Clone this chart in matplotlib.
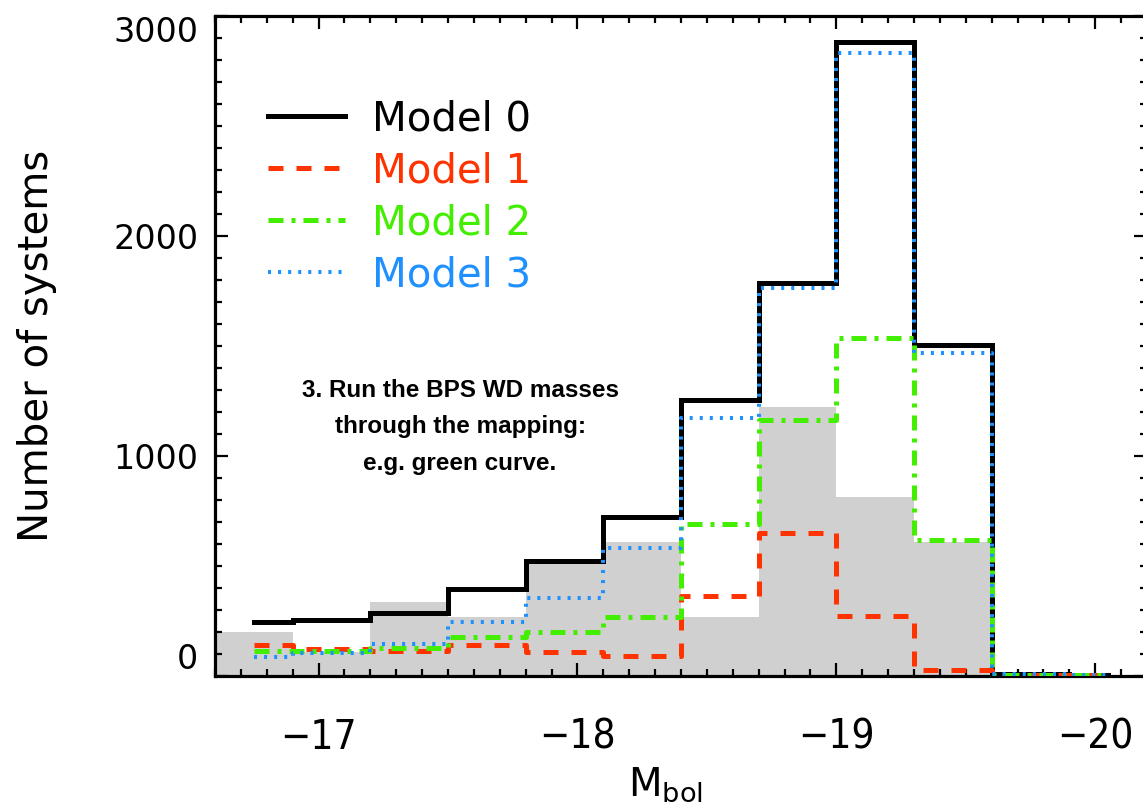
import matplotlib
matplotlib.use("Agg")
import matplotlib.pyplot as plt
from matplotlib.ticker import MultipleLocator

# ---- data ----
# grey filled histogram (bin edges and counts)
grey_edges = [-16.6, -16.9, -17.2, -17.5, -17.8, -18.1, -18.4, -18.7, -19.0, -19.3, -19.6]
grey_counts = [200, 110, 335, 270, 512, 610, 270, 1224, 815, 610]

# step histograms (bin centres, IDL psym=10 style)
centers = [-16.75, -17.05, -17.35, -17.65, -17.95, -18.25, -18.55, -18.85, -19.15, -19.45, -19.75, -20.05]
model0 = [245, 255, 285, 394, 523, 724, 1255, 1785, 2880, 1505, 10, 5]
model1 = [141, 123, 115, 141, 111, 93, 364, 648, 273, 27, 6, 3]
model2 = [114, 115, 126, 176, 202, 270, 691, 1164, 1535, 618, 6, 3]
model3 = [88, 105, 144, 247, 356, 580, 1171, 1762, 2830, 1467, 9, 4]

labels = ["Model 0", "Model 1", "Model 2", "Model 3"]
xticks = [-17, -18, -19, -20]
yticks = [0, 1000, 2000, 3000]

# ---- style ----
c_black = "black"
c_red = "#ff3300"
c_green = "#44ee00"
c_blue = "#1e90ff"
c_grey = "#d0d0d0"

plt.rcParams["font.family"] = ["DejaVu Sans"]

fig = plt.figure(figsize=(11.43, 8.06), dpi=100)
ax = fig.add_axes([215 / 1143, 1 - 676 / 806, (1147 - 215) / 1143, 660 / 806])

ax.stairs(grey_counts, grey_edges, fill=True, color=c_grey, zorder=1)

lw = 3.6
ax.step(centers, model0, where="mid", color=c_black, lw=lw, zorder=3,
        solid_joinstyle="miter", label=labels[0])
ax.step(centers, model1, where="mid", color=c_red, lw=lw, zorder=4,
        linestyle=(0, (3.0, 2.6)), label=labels[1])
ax.step(centers, model2, where="mid", color=c_green, lw=lw, zorder=5,
        linestyle=(0, (3.0, 1.6, 0.8, 1.6)), label=labels[2])
ax.step(centers, model3, where="mid", color=c_blue, lw=2.9, zorder=6,
        linestyle=(0, (0.75, 1.75)), label=labels[3])

ax.set_xlim(-16.6, -20.2)
ax.set_ylim(0, 3000)

ax.xaxis.set_major_locator(MultipleLocator(1))
ax.xaxis.set_minor_locator(MultipleLocator(0.1))
ax.yaxis.set_major_locator(MultipleLocator(1000))
ax.yaxis.set_minor_locator(MultipleLocator(100))
ax.set_xticks(xticks)
ax.set_yticks(yticks)

ax.tick_params(which="both", direction="in", top=True, right=True, width=1.6)
ax.tick_params(which="major", length=9.5)
ax.tick_params(which="minor", length=5)
ax.tick_params(axis="y", labelsize=24, pad=12)
ax.tick_params(axis="x", labelsize=29, pad=30)
for lab in ax.get_xticklabels():
    lab.set_fontstretch("condensed")
ylabs = ax.get_yticklabels()
ylabs[0].set_va("bottom")
ylabs[-1].set_va("top")
for sp in ax.spines.values():
    sp.set_linewidth(2.3)

ax.set_xlabel("M$_{\\rm bol}$", fontsize=28)
ax.xaxis.set_label_coords((665 - 215) / 932, (676 - 765) / 660)
ax.set_ylabel("Number of systems", fontsize=29)
ax.yaxis.set_label_coords((57 - 215) / 932, 0.5)

leg = ax.legend(loc="upper left", bbox_to_anchor=(0.057, 0.874), frameon=False,
                fontsize=29, handlelength=1.91, handletextpad=0.67,
                labelspacing=0.3, borderpad=0, borderaxespad=0,
                labelcolor="linecolor")

ax.text(0.263, 0.378, "3. Run the BPS WD masses\nthrough the mapping:\ne.g. green curve.",
        transform=ax.transAxes, ha="center", va="center", fontsize=17.5,
        fontweight="bold", family=["Liberation Sans", "DejaVu Sans"],
        linespacing=1.75, zorder=7)

fig.savefig("out.png", dpi=100)
